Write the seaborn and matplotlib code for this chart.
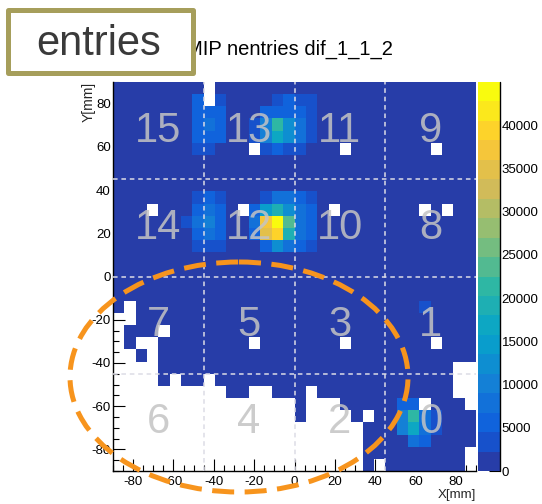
import numpy as np
import pandas as pd
import matplotlib
matplotlib.use("Agg")
import matplotlib.pyplot as plt
import seaborn as sns
from matplotlib.colors import ListedColormap, LinearSegmentedColormap
from matplotlib.patches import Ellipse, Rectangle
from matplotlib.ticker import MultipleLocator

# ---------------- data ----------------
x_range = (-90, 90)
y_range = (-90, 90)
n_bins = 32

# occupancy map, top row (y=+90) first; '#' = filled bin, '.' = empty bin
occupancy = [
    "########.#######################",
    "########.#######################",
    "################################",
    "################################",
    "################################",
    "############.#######.#######.###",
    "################################",
    "################################",
    "################################",
    "################################",
    "###.#######.#######.#######.#.##",
    "################################",
    "################################",
    "################################",
    "################################",
    "################################",
    "################################",
    "################################",
    "#.##############################",
    "..##############################",
    ".###.###########################",
    ".#..########.#######.#######.###",
    "..#.############################",
    "....##########################..",
    "....#.##.#####################..",
    "..........##..###.############..",
    "................#...#######.###.",
    "................#....#.#########",
    "......................##########",
    "......................##########",
    "......................#########.",
    "......................#.#######.",
]
base_entries = 1000

hot_col = [7, 7, 7, 7, 7, 8, 8, 8, 8, 9, 9, 9, 9,
           6, 7, 7, 7, 7, 7, 8, 8, 8, 8, 8, 9, 9, 9, 9, 9,
           12, 12, 13, 13, 13, 13, 14, 14, 14, 14, 14, 15, 15, 15, 15, 15,
           16, 16, 16, 16, 16, 17, 17, 17, 17,
           12, 12, 12, 13, 13, 13, 13, 13, 14, 14, 14, 14, 14, 15, 15, 15, 15, 15,
           16, 16, 16, 16, 16, 17, 17, 17, 17, 17,
           25, 25, 25, 26, 26, 26, 26, 27, 27, 27, 28, 28, 27]
hot_row = [26, 27, 28, 29, 30, 26, 27, 28, 29, 27, 28, 29, 30,
           20, 18, 19, 20, 21, 22, 18, 19, 20, 21, 22, 18, 19, 20, 21, 22,
           27, 28, 26, 27, 28, 29, 26, 27, 28, 29, 30, 26, 27, 28, 29, 30,
           26, 27, 28, 29, 30, 27, 28, 29, 30,
           19, 20, 21, 18, 19, 20, 21, 22, 18, 19, 20, 21, 22, 18, 19, 20, 21, 22,
           18, 19, 20, 21, 22, 18, 19, 20, 21, 22,
           3, 4, 5, 2, 3, 4, 5, 2, 3, 4, 3, 4, 13]
hot_entries = [4000, 5000, 5500, 5000, 4500, 3500, 6500, 7500, 6500, 4500, 5000, 5000, 4000,
               3500, 3000, 6000, 7000, 6000, 3500, 4000, 8000, 9000, 8000, 5000, 3500, 5000, 5500, 5000, 4000,
               3000, 3500, 3500, 10000, 11000, 4500, 4500, 16500, 21500, 6000, 3000, 4000, 11500, 12500, 5500, 4500,
               3000, 7000, 7500, 6000, 4000, 3500, 4000, 3500, 3000,
               5000, 7500, 5500, 5000, 34500, 37000, 15000, 4000, 11500, 38500, 45000, 19500, 7500,
               8000, 18500, 22500, 12000, 7500,
               5000, 7500, 7500, 7000, 5000, 3500, 4500, 4500, 4500, 3500,
               9500, 10000, 5000, 7000, 16000, 22000, 6500, 4500, 7000, 7500, 3500, 4000, 3500]

z_max = 45000
n_levels = 20
cbar_ticks = [0, 5000, 10000, 15000, 20000, 25000, 30000, 35000, 40000]
major_ticks = [-80, -60, -40, -20, 0, 20, 40, 60, 80]
region_edges = [-45, 0, 45]
region_ids = [[15, 13, 11, 9], [14, 12, 10, 8], [7, 5, 3, 1], [6, 4, 2, 0]]
region_cx = [-67.5, -22.5, 22.5, 67.5]
region_cy = [67.5, 22.5, -22.5, -67.5]

title = "MIP nentries dif_1_1_2"
badge = "entries"

# ROOT kBird palette
bird_stops = [0.0, 0.125, 0.25, 0.375, 0.5, 0.625, 0.75, 0.875, 1.0]
bird_r = [0.2082, 0.0592, 0.0780, 0.0232, 0.1802, 0.5301, 0.8186, 0.9956, 0.9764]
bird_g = [0.1664, 0.3599, 0.5041, 0.6419, 0.7178, 0.7492, 0.7328, 0.7862, 0.9832]
bird_b = [0.5293, 0.8684, 0.8385, 0.7914, 0.6425, 0.4662, 0.3499, 0.1968, 0.0539]

# ---------------- build table ----------------
edges = np.linspace(x_range[0], x_range[1], n_bins + 1)
centers = (edges[:-1] + edges[1:]) / 2
counts = np.zeros((n_bins, n_bins))
for i, line in enumerate(occupancy):
    row = n_bins - 1 - i
    for col, ch in enumerate(line):
        if ch == "#":
            counts[row, col] = base_entries
for c, r, v in zip(hot_col, hot_row, hot_entries):
    counts[r, c] = v
rows, cols = np.nonzero(counts)
df = pd.DataFrame({"x": centers[cols], "y": centers[rows], "entries": counts[rows, cols]})

bird = LinearSegmentedColormap.from_list(
    "bird", list(zip(bird_stops, zip(bird_r, bird_g, bird_b))), N=255)
band_idx = [int((k + 0.99) * 255 / n_levels) for k in range(n_levels)]
cmap = ListedColormap([bird(i) for i in band_idx])

# ---------------- plot ----------------
sns.set_theme(style="white")
plt.rcParams["font.family"] = ["Liberation Sans", "DejaVu Sans"]
plt.rcParams["axes.unicode_minus"] = False

W, H = 542, 504
fig = plt.figure(figsize=(W / 100, H / 100), dpi=100)
fig.patch.set_facecolor("white")
ax = fig.add_axes([113 / W, 1 - 471 / H, 363 / W, 389 / H])
cax = fig.add_axes([478 / W, 1 - 471 / H, 21.5 / W, 389 / H])

sns.histplot(data=df, x="x", y="y", weights="entries", bins=n_bins,
             binrange=(x_range, y_range), cmap=cmap, vmin=0, vmax=z_max,
             cbar=True, cbar_ax=cax, ax=ax, linewidth=0)

ax.set_xlim(*x_range)
ax.set_ylim(*y_range)
ax.set_facecolor("white")
ax.set_xticks(major_ticks)
ax.set_yticks(major_ticks)
ax.xaxis.set_minor_locator(MultipleLocator(5))
ax.yaxis.set_minor_locator(MultipleLocator(5))
ax.tick_params(which="both", direction="in", top=False, right=False,
               bottom=True, left=True, colors="black", width=0.8)
ax.tick_params(which="major", length=8.5, labelsize=9.5)
ax.tick_params(which="minor", length=4.3)
ax.tick_params(axis="x", which="major", pad=3.5)
ax.tick_params(axis="y", which="major", pad=1.5)
for s in ["top", "right"]:
    ax.spines[s].set_visible(False)
for s in ["left", "bottom"]:
    ax.spines[s].set_color("black")
    ax.spines[s].set_linewidth(1.0)
ax.grid(False)

ax.set_xlabel("X[mm]", loc="right", fontsize=9.5)
ax.set_ylabel("Y[mm]", loc="top", fontsize=10)
ax.xaxis.set_label_coords(1.0, -0.046)
ax.yaxis.set_label_coords(-0.047, 1.0)

for v in region_edges:
    ax.axvline(v, color="#dcdce6", lw=1.1, ls=(0, (3, 2.5)), zorder=3)
    ax.axhline(v, color="#dcdce6", lw=1.1, ls=(0, (3, 2.5)), zorder=3)

for ri, cy in enumerate(region_cy):
    for ci, cx in enumerate(region_cx):
        ax.text(cx, cy, str(region_ids[ri][ci]), fontsize=30, color="#c4c4c4",
                alpha=0.85, ha="center", va="center", zorder=4)

cb = ax.collections[0].colorbar
cb.set_ticks(cbar_ticks)
cb.outline.set_visible(False)
cax.tick_params(direction="in", length=8, width=0.8, labelsize=9.5, pad=1.5,
                right=True, left=False, colors="black")
cax.plot([1, 1], [0, 1], transform=cax.transAxes, color="black", lw=1, clip_on=False)

# overlay in pixel coordinates
ov = fig.add_axes([0, 0, 1, 1], zorder=10)
ov.set_xlim(0, W)
ov.set_ylim(H, 0)
ov.axis("off")
ov.patch.set_alpha(0)
ov.text(186, 55, title, fontsize=14.5, ha="left", va="baseline", color="black", zorder=2)
ov.add_patch(Rectangle((7.5, 9.5), 185, 63, facecolor="white", edgecolor="#a69e5b",
                       lw=3.6, joinstyle="round", zorder=5))
ov.text(36, 55, badge, fontsize=30, color="#3a3a3a", ha="left", va="baseline", zorder=6)
ov.add_patch(Ellipse((239, 377), 338, 230, fill=False, edgecolor="#f7941d",
                     lw=3.6, ls=(0, (4.4, 2.1)), zorder=7))

fig.savefig("out.png", dpi=100)
